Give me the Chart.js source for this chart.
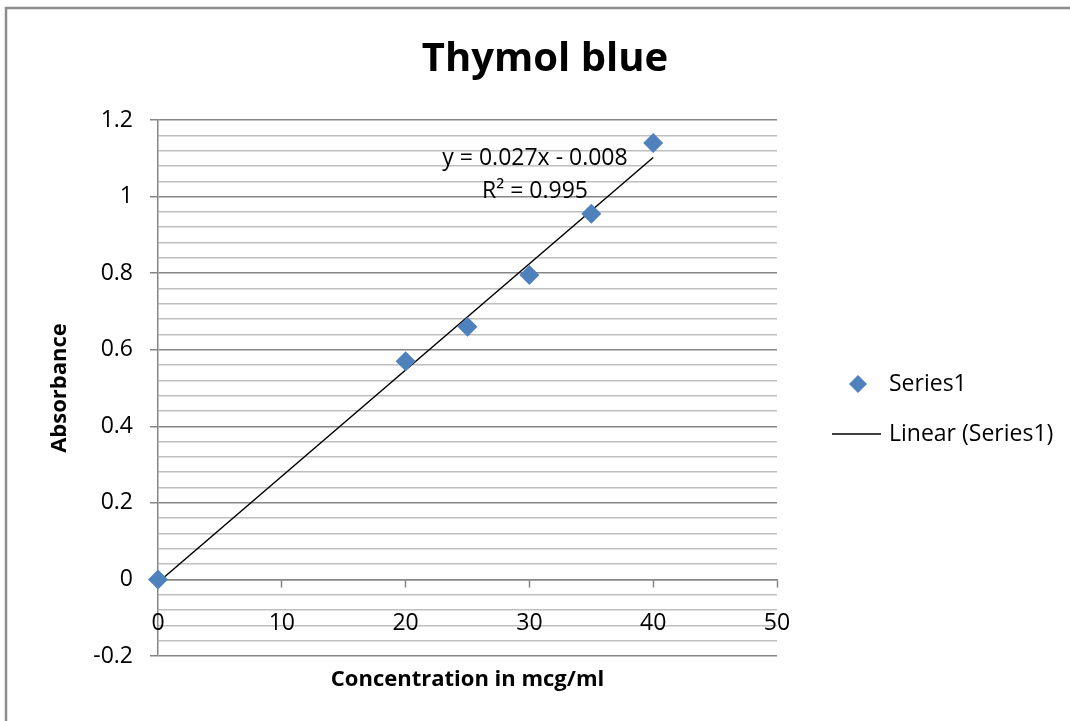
<!DOCTYPE html>
<html><head><meta charset="utf-8">
<script src="https://cdn.jsdelivr.net/npm/chart.js@4/dist/chart.umd.min.js"></script>
<style>html,body{margin:0;padding:0;background:#fff}#wrap{width:1070px;height:721px;position:relative}</style>
</head><body><div id="wrap"><canvas id="c" width="1070" height="721"></canvas></div>
<script>
const concentrations = [0, 20, 25, 30, 35, 40];
const absorbance = [0, 0.57, 0.66, 0.795, 0.955, 1.14];
const trendX = [0, 40];
const trendY = [-0.008, 1.102];
const yTickLabels = ['-0.2', '0', '0.2', '0.4', '0.6', '0.8', '1', '1.2'];
const xTickLabels = ['0', '10', '20', '30', '40', '50'];
const equationText = 'y = 0.027x - 0.008';
const r2Text = 'R² = 0.995';

const FONT = "'Open Sans', 'Liberation Sans', sans-serif";
const isMajor = v => Math.abs(Math.round(v * 5) - v * 5) < 1e-6;

const decor = {
  id: 'decor',
  beforeDraw(chart) {
    const ctx = chart.ctx;
    ctx.save();
    ctx.fillStyle = '#fff';
    ctx.fillRect(0, 0, chart.width, chart.height);
    ctx.strokeStyle = '#8c8c8c';
    ctx.lineWidth = 2.5;
    ctx.beginPath();
    ctx.moveTo(6, chart.height + 5);
    ctx.lineTo(6, 8);
    ctx.lineTo(chart.width + 5, 8);
    ctx.stroke();
    ctx.restore();
  },
  afterDraw(chart) {
    const ctx = chart.ctx;
    const xs = chart.scales.x, ys = chart.scales.y;
    ctx.save();
    ctx.fillStyle = '#000';
    ctx.textAlign = 'center';
    ctx.textBaseline = 'middle';
    ctx.font = "bold 40px " + FONT;
    ctx.fillText('Thymol blue', 545, 60);
    ctx.font = "bold 22px " + FONT;
    ctx.fillText('Concentration in mcg/ml', (xs.left + xs.right) / 2, 680);
    ctx.save();
    ctx.translate(60, (ys.top + ys.bottom) / 2);
    ctx.rotate(-Math.PI / 2);
    ctx.fillText('Absorbance', 0, 0);
    ctx.restore();
    // x tick labels
    ctx.font = "23px " + FONT;
    xTickLabels.forEach(t => {
      ctx.fillText(t, xs.getPixelForValue(parseFloat(t)), 623);
    });
    // equation
    ctx.fillText(equationText, 535, 158);
    ctx.fillText(r2Text, 535, 191);
    // legend
    ctx.fillStyle = '#4F81BD';
    ctx.beginPath();
    const lx = 858, ly = 384, r = 9;
    ctx.moveTo(lx, ly - r); ctx.lineTo(lx + r, ly); ctx.lineTo(lx, ly + r); ctx.lineTo(lx - r, ly); ctx.closePath();
    ctx.fill();
    ctx.strokeStyle = '#000'; ctx.lineWidth = 1.5;
    ctx.beginPath(); ctx.moveTo(832, 434); ctx.lineTo(881, 434); ctx.stroke();
    ctx.fillStyle = '#000';
    ctx.textAlign = 'left';
    ctx.fillText('Series1', 889, 384);
    ctx.fillText('Linear (Series1)', 889, 434);
    ctx.restore();
  }
};

new Chart(document.getElementById('c'), {
  type: 'scatter',
  data: {
    datasets: [
      {
        label: 'Linear (Series1)',
        data: trendX.map((x, i) => ({x, y: trendY[i]})),
        showLine: true,
        borderColor: '#000',
        borderWidth: 1.5,
        pointRadius: 0,
        clip: false,
        order: 1
      },
      {
        label: 'Series1',
        data: concentrations.map((x, i) => ({x, y: absorbance[i]})),
        pointStyle: 'rectRot',
        pointRadius: 10,
        pointHoverRadius: 10,
        backgroundColor: '#4F81BD',
        borderColor: '#4F81BD',
        borderWidth: 0,
        clip: false,
        order: 0
      }
    ]
  },
  options: {
    responsive: false,
    animation: false,
    events: [],
    layout: { padding: { left: 0, right: 293, top: 120, bottom: 65 } },
    plugins: { legend: { display: false }, tooltip: { enabled: false }, title: { display: false } },
    scales: {
      x: {
        type: 'linear',
        position: { y: 0 },
        min: 0, max: 50,
        ticks: { stepSize: 10, display: false },
        grid: { drawOnChartArea: false, drawTicks: true, tickLength: 7, tickColor: '#868686', tickWidth: 1.5 },
        border: { display: true, color: '#868686', width: 1.5 }
      },
      y: {
        type: 'linear',
        min: -0.2, max: 1.2,
        afterFit(s) { s.width = 158; },
        afterBuildTicks(s) {
          const t = [];
          for (let i = 0; i <= 35; i++) t.push({ value: -0.2 + i * 0.04 });
          s.ticks = t;
        },
        ticks: {
          autoSkip: false,
          padding: 17,
          color: '#000',
          font: { family: FONT, size: 23 },
          callback(v) {
            if (!isMajor(v)) return '';
            return yTickLabels[Math.round((v + 0.2) * 5)];
          }
        },
        grid: {
          color: c => isMajor(c.tick.value) ? '#868686' : '#bfbfbf',
          lineWidth: 1.5,
          tickLength: 8,
          tickColor: c => isMajor(c.tick.value) ? '#868686' : 'rgba(0,0,0,0)'
        },
        border: { display: true, color: '#868686', width: 1.5 }
      }
    }
  },
  plugins: [decor]
});
</script>
</body></html>
